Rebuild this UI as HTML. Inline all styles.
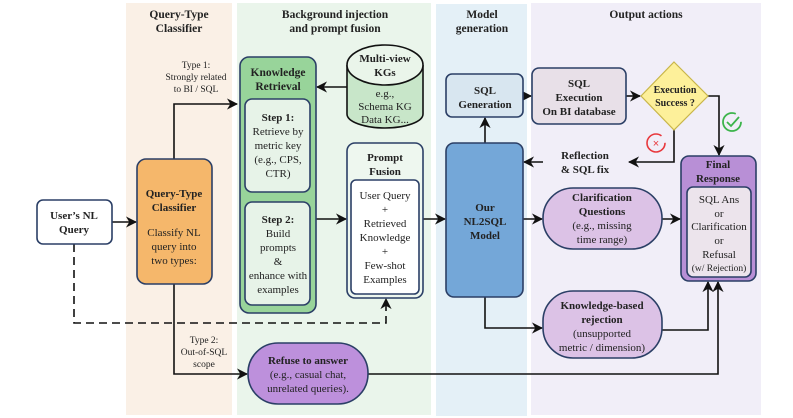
<!DOCTYPE html>
<html><head><meta charset="utf-8"><style>
body{margin:0;background:#fff}
svg{display:block;font-family:"Liberation Serif",serif}
.b{font-weight:bold}
</style></head><body>
<svg width="793" height="418" viewBox="0 0 793 418" xmlns="http://www.w3.org/2000/svg">
<defs>
<marker id="a" viewBox="0 0 10 10" refX="9" refY="5" markerWidth="7" markerHeight="7" orient="auto-start-reverse"><path d="M0,0 L10,5 L0,10 L3,5 z" fill="#111"/></marker>
</defs>
<rect x="126" y="3" width="106" height="412" fill="#faf0e6"/>
<rect x="237" y="3" width="194" height="412" fill="#eaf5eb"/>
<rect x="436" y="4" width="91" height="412" fill="#e4f0f7"/>
<rect x="531" y="3" width="230" height="412" fill="#f1eef8"/>
<g class="b" font-size="11.5" text-anchor="middle" fill="#222">
<text x="179" y="18">Query-Type</text><text x="179" y="32">Classifier</text>
<text x="335" y="18">Background injection</text><text x="335" y="32">and prompt fusion</text>
<text x="482" y="18">Model</text><text x="482" y="32">generation</text>
<text x="646" y="18">Output actions</text>
</g>
<g fill="none" stroke="#111" stroke-width="1.6">
<polyline points="174,159 174,104 237,104" marker-end="url(#a)"/>
<line x1="112" y1="222" x2="136" y2="222" marker-end="url(#a)"/>
<line x1="347" y1="87" x2="317" y2="87" marker-end="url(#a)"/>
<line x1="316" y1="219" x2="346" y2="219" marker-end="url(#a)"/>
<polyline points="74,244 74,323 386,323 386,299" stroke-dasharray="8,5" marker-end="url(#a)"/>
<line x1="423" y1="219" x2="445" y2="219" marker-end="url(#a)"/>
<line x1="485" y1="143" x2="485" y2="118" marker-end="url(#a)"/>
<line x1="523" y1="96" x2="531" y2="96" marker-end="url(#a)"/>
<line x1="626" y1="96" x2="640" y2="96" marker-end="url(#a)"/>
<polyline points="708,96 719,96 719,155" marker-end="url(#a)"/>
<polyline points="674,130 674,162 629,162" marker-end="url(#a)"/>
<line x1="543" y1="162" x2="524" y2="162" marker-end="url(#a)"/>
<line x1="523" y1="219" x2="542" y2="219" marker-end="url(#a)"/>
<line x1="662" y1="219" x2="680" y2="219" marker-end="url(#a)"/>
<polyline points="485,297 485,328 542,328" marker-end="url(#a)"/>
<polyline points="662,330 708,330 708,282" marker-end="url(#a)"/>
<polyline points="174,284 174,374 247,374" marker-end="url(#a)"/>
<polyline points="368,374 718,374 718,282" marker-end="url(#a)"/>
</g>
<g font-size="9.5" text-anchor="middle" fill="#222">
<text x="196" y="68">Type 1:</text><text x="196" y="80">Strongly related</text><text x="196" y="92">to BI / SQL</text>
<text x="204" y="343">Type 2:</text><text x="204" y="355">Out-of-SQL</text><text x="204" y="367">scope</text>
</g>
<g stroke="#2b3f66" stroke-width="1.6">
<rect x="37" y="200" width="75" height="44" rx="6" fill="#fff"/>
<rect x="137" y="159" width="75" height="125" rx="9" fill="#f5b76b"/>
<rect x="240" y="57" width="76" height="256" rx="9" fill="#98d49a"/>
<rect x="245" y="99" width="65" height="93" rx="7" fill="#e7f3e8"/>
<rect x="245" y="202" width="65" height="103" rx="7" fill="#e7f3e8"/>
<rect x="347" y="143" width="76" height="155" rx="8" fill="#eef7ef"/>
<rect x="351" y="180" width="68" height="114" rx="5" fill="#fff"/>
<rect x="446" y="74" width="77" height="43" rx="6" fill="#d8e6f0"/>
<rect x="446" y="143" width="77" height="154" rx="8" fill="#74a7d8"/>
<rect x="532" y="68" width="94" height="56" rx="7" fill="#e8e0e8"/>
<rect x="681" y="156" width="75" height="125" rx="8" fill="#b88fd6"/>
<rect x="687" y="187" width="64" height="90" rx="6" fill="#ece4ec"/>
<rect x="543" y="188" width="119" height="61" rx="30" fill="#dcc2e6"/>
<rect x="543" y="291" width="119" height="67" rx="30" fill="#dcc2e6"/>
<rect x="248" y="343" width="120" height="61" rx="30" fill="#bd90dc"/>
</g>
<polygon points="674,62 708,96 674,130 641,96" fill="#fdf09a" stroke="#c9b64a" stroke-width="1.2"/>
<path d="M347,65 L347,114 A38,14 0 0 0 423,114 L423,65" fill="#c8e6c9" stroke="#111" stroke-width="1.6"/>
<ellipse cx="385" cy="65" rx="38" ry="20" fill="#eaf5ea" stroke="#111" stroke-width="1.6"/>
<circle cx="656" cy="143" r="9" fill="none" stroke="#e8383d" stroke-width="1.6" stroke-dasharray="48,8"/>
<text x="656" y="147" font-size="11" text-anchor="middle" fill="#e8383d" font-family="Liberation Sans,sans-serif">×</text>
<circle cx="732" cy="122" r="9" fill="none" stroke="#3cb44b" stroke-width="1.8" stroke-dasharray="46,10"/>
<polyline points="727,122 731,126 739,117" fill="none" stroke="#3cb44b" stroke-width="1.8"/>
<g font-size="11" text-anchor="middle" fill="#222">
<text class="b" x="74" y="219">User’s NL</text><text class="b" x="74" y="233">Query</text>
<text class="b" x="174" y="197">Query-Type</text><text class="b" x="174" y="211">Classifier</text>
<text x="174" y="236">Classify NL</text><text x="174" y="250">query into</text><text x="174" y="264">two types:</text>
<text class="b" x="278" y="76" font-size="11.5">Knowledge</text><text class="b" x="278" y="90" font-size="11.5">Retrieval</text>
<text class="b" x="278" y="121">Step 1:</text><text x="278" y="135">Retrieve by</text><text x="278" y="149">metric key</text><text x="278" y="163">(e.g., CPS,</text><text x="278" y="177">CTR)</text>
<text class="b" x="278" y="223">Step 2:</text><text x="278" y="237">Build</text><text x="278" y="251">prompts</text><text x="278" y="265">&amp;</text><text x="278" y="279">enhance with</text><text x="278" y="293">examples</text>
<text class="b" x="385" y="62">Multi-view</text><text class="b" x="385" y="76">KGs</text>
<text x="385" y="97">e.g.,</text><text x="385" y="110">Schema KG</text><text x="385" y="123">Data KG...</text>
<text class="b" x="385" y="161">Prompt</text><text class="b" x="385" y="175">Fusion</text>
<text x="385" y="199">User Query</text><text x="385" y="213">+</text><text x="385" y="227">Retrieved</text><text x="385" y="241">Knowledge</text><text x="385" y="255">+</text><text x="385" y="269">Few-shot</text><text x="385" y="283">Examples</text>
<text class="b" x="485" y="94">SQL</text><text class="b" x="485" y="108">Generation</text>
<text class="b" x="485" y="211">Our</text><text class="b" x="485" y="225">NL2SQL</text><text class="b" x="485" y="239">Model</text>
<text class="b" x="579" y="87">SQL</text><text class="b" x="579" y="101">Execution</text><text class="b" x="579" y="115">On BI database</text>
<text class="b" x="675" y="93" font-size="10">Execution</text><text class="b" x="675" y="106" font-size="10">Success ?</text>
<text class="b" x="585" y="159">Reflection</text><text class="b" x="585" y="173">&amp; SQL fix</text>
<text class="b" x="718" y="168">Final</text><text class="b" x="718" y="182">Response</text>
<text x="719" y="203">SQL Ans</text><text x="719" y="217">or</text><text x="719" y="230">Clarification</text><text x="719" y="244">or</text><text x="719" y="258">Refusal</text><text x="719" y="271" font-size="9.5">(w/ Rejection)</text>
<text class="b" x="602" y="201">Clarification</text><text class="b" x="602" y="215">Questions</text><text x="602" y="229">(e.g., missing</text><text x="602" y="243">time range)</text>
<text class="b" x="602" y="309">Knowledge-based</text><text class="b" x="602" y="323">rejection</text><text x="602" y="337">(unsupported</text><text x="602" y="351">metric / dimension)</text>
<text class="b" x="308" y="364">Refuse to answer</text><text x="308" y="378">(e.g., casual chat,</text><text x="308" y="392">unrelated queries).</text>
</g>
</svg>
</body></html>
